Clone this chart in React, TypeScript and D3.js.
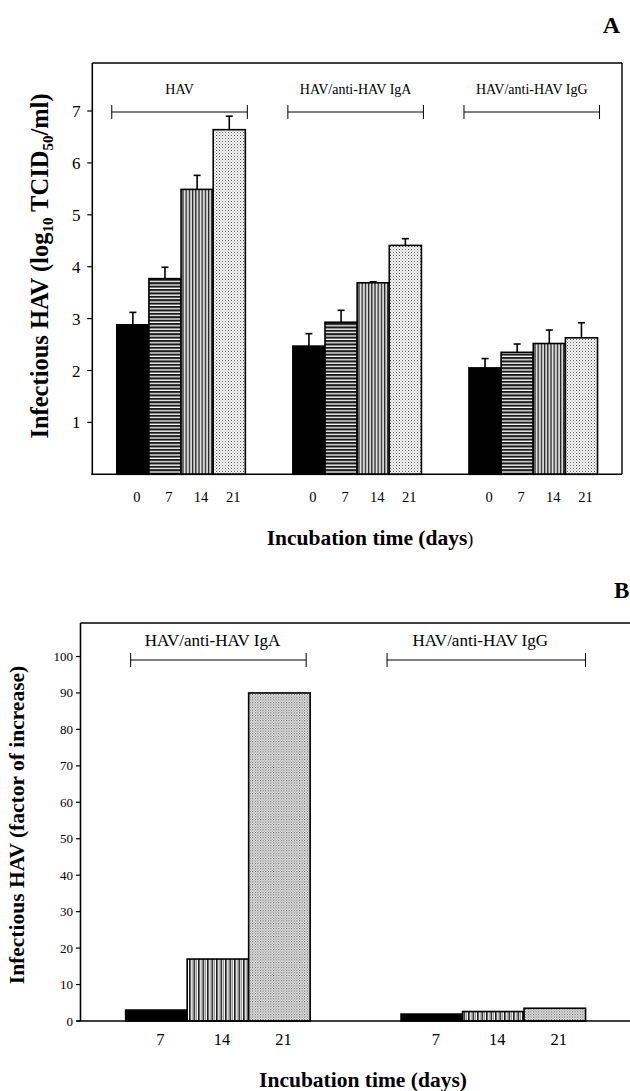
import React from "react";
import * as d3 from "d3";

// ---------- data ----------
const groupsA = ["HAV", "HAV/anti-HAV IgA", "HAV/anti-HAV IgG"];
const daysA = ["0", "7", "14", "21"];
const meansA = [
  [2.88, 3.77, 5.49, 6.64],
  [2.47, 2.93, 3.69, 4.41],
  [2.05, 2.35, 2.52, 2.63],
];
const errorsA = [
  [0.24, 0.22, 0.27, 0.26],
  [0.24, 0.23, 0.02, 0.13],
  [0.18, 0.16, 0.26, 0.29],
];
const ticksA = [1, 2, 3, 4, 5, 6, 7];

const groupsB = ["HAV/anti-HAV IgA", "HAV/anti-HAV IgG"];
const daysB = ["7", "14", "21"];
const valuesB = [
  [3.0, 17, 90],
  [1.9, 2.6, 3.5],
];
const ticksB = [0, 10, 20, 30, 40, 50, 60, 70, 80, 90, 100];

const FONT = "'Liberation Serif', 'Times New Roman', serif";

export default function App() {
  // ---------- panel A scales ----------
  const aL = 92.3, aR = 622, aT = 63, aB = 474.3;
  const xA = d3.scaleBand<string>().domain(groupsA).range([aL, aR]).paddingInner(0.27).paddingOuter(0.139);
  const xAi = d3.scaleBand<string>().domain(daysA).range([0, xA.bandwidth()]);
  const yA = d3.scaleLinear().domain([0, 7]).range([aB, 111]);
  const fillsA = ["#000", "url(#hstripe)", "url(#vstripe)", "url(#dots)"];

  // ---------- panel B scales ----------
  const bL = 80.5, bR = 630.7, bT = 623, bB = 1021;
  const xB = d3.scaleBand<string>().domain(groupsB).range([bL, bR]).paddingInner(0.33).paddingOuter(0.164);
  const xBi = d3.scaleBand<string>().domain(daysB).range([0, xB.bandwidth()]);
  const yB = d3.scaleLinear().domain([0, 100]).range([bB, 656.5]);
  const fillsB = ["#000", "url(#vstripeB)", "url(#dotsB)"];

  const bracketYA = yA(7) + 1;
  const bracketYB = 660;

  return (
    <svg
      width={630}
      height={1091}
      style={{ position: "absolute", left: 0, top: 0, background: "#fff" }}
      fontFamily={FONT}
    >
      <defs>
        <pattern id="hstripe" patternUnits="userSpaceOnUse" width={4} height={3.4}>
          <rect width={4} height={3.4} fill="#fff" />
          <rect width={4} height={2.1} fill="#1a1a1a" />
        </pattern>
        <pattern id="vstripe" patternUnits="userSpaceOnUse" width={3.2} height={4}>
          <rect width={3.2} height={4} fill="#fff" />
          <rect width={1.3} height={4} fill="#222" />
          <rect x={2.2} width={0.5} height={4} fill="#888" />
        </pattern>
        <pattern id="dots" patternUnits="userSpaceOnUse" width={3} height={3}>
          <rect width={3} height={3} fill="#fff" />
          <rect width={1} height={1} fill="#555" />
          <rect x={1.5} y={1.5} width={1} height={1} fill="#777" />
        </pattern>
        <pattern id="vstripeB" patternUnits="userSpaceOnUse" width={4.5} height={4}>
          <rect width={4.5} height={4} fill="#fff" />
          <rect width={1.6} height={4} fill="#1a1a1a" />
          <rect x={2.8} width={0.8} height={4} fill="#777" />
        </pattern>
        <pattern id="dotsB" patternUnits="userSpaceOnUse" width={2.6} height={2.6}>
          <rect width={2.6} height={2.6} fill="#fff" />
          <rect width={1.1} height={1.1} fill="#444" />
          <rect x={1.3} y={1.3} width={1.1} height={1.1} fill="#666" />
        </pattern>
      </defs>

      {/* ================= PANEL A ================= */}
      <text x={620} y={33} textAnchor="end" fontSize={24} fontWeight="bold">A</text>

      {groupsA.map((g, gi) => (
        <g key={g}>
          {daysA.map((d, di) => {
            const x = (xA(g) as number) + (xAi(d) as number);
            const w = xAi.bandwidth();
            const v = meansA[gi][di];
            const top = yA(v);
            const eTop = yA(v + errorsA[gi][di]);
            const cx = x + w / 2;
            return (
              <g key={d}>
                <rect x={x} y={top} width={w} height={aB - top} fill={fillsA[di]} stroke="#000" strokeWidth={1.6} />
                <line x1={cx} x2={cx} y1={top} y2={eTop} stroke="#000" strokeWidth={1.6} />
                <line x1={cx - 3.5} x2={cx + 3.5} y1={eTop} y2={eTop} stroke="#000" strokeWidth={1.6} />
                <text x={cx + 4} y={502} textAnchor="middle" fontSize={14.5}>{d}</text>
              </g>
            );
          })}
          {(() => {
            const x0 = (xA(g) as number) - 5;
            const x1 = (xA(g) as number) + xA.bandwidth() + 2;
            return (
              <g stroke="#000" strokeWidth={1}>
                <line x1={x0} x2={x1} y1={bracketYA} y2={bracketYA} />
                <line x1={x0} x2={x0} y1={bracketYA - 7} y2={bracketYA + 7} />
                <line x1={x1} x2={x1} y1={bracketYA - 7} y2={bracketYA + 7} />
                <text x={(x0 + x1) / 2} y={94} textAnchor="middle" fontSize={14} stroke="none" fill="#000">{g}</text>
              </g>
            );
          })()}
        </g>
      ))}

      {/* frame A */}
      <g stroke="#000" fill="none">
        <line x1={aL} x2={aR} y1={aT} y2={aT} strokeWidth={1.4} />
        <line x1={aR} x2={aR} y1={aT} y2={aB} strokeWidth={1.4} />
        <line x1={aL} x2={aL} y1={aT} y2={aB} strokeWidth={1.6} />
        <line x1={aL - 1} x2={aR} y1={aB} y2={aB} strokeWidth={1.6} />
      </g>
      {ticksA.map((t) => (
        <g key={t}>
          <line x1={aL - 5} x2={aL} y1={yA(t)} y2={yA(t)} stroke="#000" strokeWidth={1.2} />
          <text x={80.5} y={yA(t) + 6} textAnchor="end" fontSize={17}>{t}</text>
        </g>
      ))}

      <text x={370} y={545} textAnchor="middle" fontSize={21.5} fontWeight="bold">
        Incubation time (days<tspan fontWeight="normal" fontSize={18}>)</tspan>
      </text>
      <text transform={`translate(48,${266}) rotate(-90)`} textAnchor="middle" fontSize={24.5} fontWeight="bold">
        Infectious HAV (log<tspan fontSize={15} dy={5}>10</tspan>
        <tspan dy={-5}> TCID</tspan>
        <tspan fontSize={15} dy={5}>50</tspan>
        <tspan dy={-5}>/ml)</tspan>
      </text>

      {/* ================= PANEL B ================= */}
      <text x={614} y={598} fontSize={23} fontWeight="bold">B</text>

      {groupsB.map((g, gi) => (
        <g key={g}>
          {daysB.map((d, di) => {
            const x = (xB(g) as number) + (xBi(d) as number);
            const w = xBi.bandwidth();
            const v = valuesB[gi][di];
            const top = yB(v);
            const cx = x + w / 2;
            return (
              <g key={d}>
                <rect x={x} y={top} width={w} height={bB - top} fill={fillsB[di]} stroke="#000" strokeWidth={1.6} />
                <text x={cx + 4} y={1045} textAnchor="middle" fontSize={16.5}>{d}</text>
              </g>
            );
          })}
          {(() => {
            const x0 = (xB(g) as number) + (gi === 0 ? 5 : -14);
            const x1 = (xB(g) as number) + xB.bandwidth() + (gi === 0 ? -4 : 0);
            return (
              <g stroke="#000" strokeWidth={1}>
                <line x1={x0} x2={x1} y1={bracketYB} y2={bracketYB} />
                <line x1={x0} x2={x0} y1={bracketYB - 7} y2={bracketYB + 7} />
                <line x1={x1} x2={x1} y1={bracketYB - 7} y2={bracketYB + 7} />
                <text x={(x0 + x1) / 2 - 6} y={646} textAnchor="middle" fontSize={17} stroke="none" fill="#000">{g}</text>
              </g>
            );
          })()}
        </g>
      ))}

      {/* frame B */}
      <g stroke="#000" fill="none">
        <line x1={bL} x2={bR} y1={bT} y2={bT} strokeWidth={1.4} />
        <line x1={bL} x2={bL} y1={bT} y2={bB} strokeWidth={1.6} />
        <line x1={bL - 4} x2={bR} y1={bB} y2={bB} strokeWidth={1.6} />
      </g>
      {ticksB.map((t) => (
        <g key={t}>
          <line x1={bL - 4.5} x2={bL} y1={yB(t)} y2={yB(t)} stroke="#000" strokeWidth={1.2} />
          <text x={73} y={yB(t) + 4.5} textAnchor="end" fontSize={13}>{t}</text>
        </g>
      ))}

      <text x={363} y={1087} textAnchor="middle" fontSize={21.5} fontWeight="bold">Incubation time (days)</text>
      <text transform={`translate(24,${825}) rotate(-90)`} textAnchor="middle" fontSize={21.5} fontWeight="bold">
        Infectious HAV (factor of increase)
      </text>
    </svg>
  );
}
